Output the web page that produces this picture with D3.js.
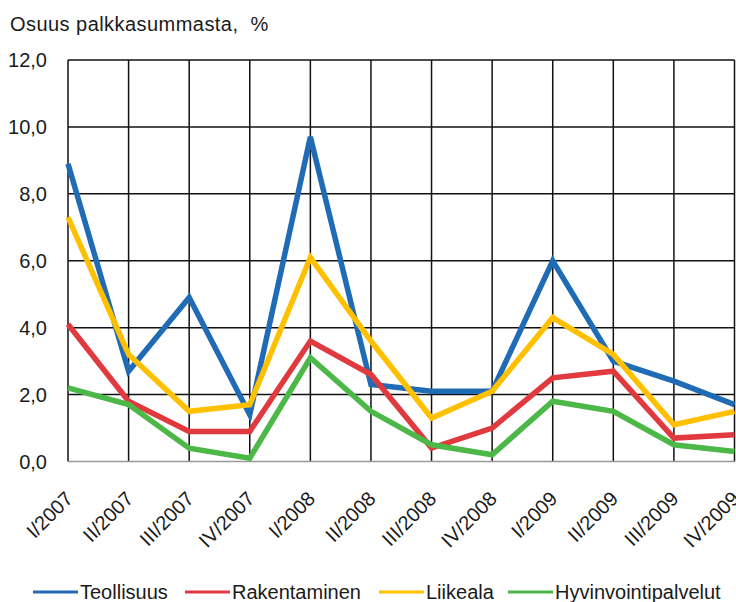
<!DOCTYPE html>
<html>
<head>
<meta charset="utf-8">
<script src="https://cdn.jsdelivr.net/npm/d3@7"></script>
<style>
  html, body { margin: 0; padding: 0; background: #fff; }
  svg { display: block; }
  text { font-family: Arial, "Liberation Sans", sans-serif; fill: #1a1a1a; }
</style>
</head>
<body>
<svg id="chart" width="736" height="602"></svg>
<script>
const categories = ["I/2007","II/2007","III/2007","IV/2007","I/2008","II/2008","III/2008","IV/2008","I/2009","II/2009","III/2009","IV/2009"];
const teollisuus = [8.9, 2.7, 4.9, 1.4, 9.7, 2.3, 2.1, 2.1, 6.0, 3.0, 2.4, 1.7];
const rakentaminen = [4.1, 1.8, 0.9, 0.9, 3.6, 2.6, 0.4, 1.0, 2.5, 2.7, 0.7, 0.8];
const liikeala = [7.3, 3.2, 1.5, 1.7, 6.1, 3.6, 1.3, 2.1, 4.3, 3.2, 1.1, 1.5];
const hyvinvointipalvelut = [2.2, 1.7, 0.4, 0.1, 3.1, 1.5, 0.5, 0.2, 1.8, 1.5, 0.5, 0.3];
const seriesNames = ["Teollisuus", "Rakentaminen", "Liikeala", "Hyvinvointipalvelut"];
const seriesColors = ["#1f6bb5", "#e0393e", "#ffc000", "#4cb848"];
const yTicks = [0, 2, 4, 6, 8, 10, 12];
const yTitle = "Osuus palkkasummasta,  %";

(function () {
const series = [teollisuus, rakentaminen, liikeala, hyvinvointipalvelut];
const svg = d3.select("#chart");
const pLeft = 68, pRight = 734.5, pTop = 60, pBottom = 461.5;

const x = d3.scalePoint().domain(categories).range([pLeft, pRight]);
const y = d3.scaleLinear().domain([0, 12]).range([pBottom, pTop]);

// title
svg.append("text").attr("x", 10).attr("y", 31).attr("font-size", 20)
  .attr("letter-spacing", 0.45).attr("xml:space", "preserve")
  .style("white-space", "pre").text(yTitle);

// horizontal grid
svg.append("g").selectAll("line").data(yTicks.filter(d => d > 0)).join("line")
  .attr("x1", pLeft).attr("x2", pRight)
  .attr("y1", d => y(d)).attr("y2", d => y(d))
  .attr("stroke", "#111").attr("stroke-width", 1.5);
// vertical grid
svg.append("g").selectAll("line").data(categories).join("line")
  .attr("x1", d => x(d)).attr("x2", d => x(d))
  .attr("y1", pTop).attr("y2", pBottom)
  .attr("stroke", "#111").attr("stroke-width", 1.5);
// baseline
svg.append("line").attr("x1", pLeft).attr("x2", pRight)
  .attr("y1", pBottom).attr("y2", pBottom)
  .attr("stroke", "#999").attr("stroke-width", 1.5);

// y tick labels
svg.append("g").selectAll("text").data(yTicks).join("text")
  .attr("x", 47).attr("y", d => y(d) + 7)
  .attr("text-anchor", "end").attr("font-size", 20)
  .text(d => d3.format(".1f")(d).replace(".", ","));

// x labels
svg.append("g").selectAll("text").data(categories).join("text")
  .attr("transform", d => `translate(${x(d) + 6},500) rotate(-45)`)
  .attr("text-anchor", "end").attr("font-size", 20)
  .text(d => d);

// lines
const line = d3.line().x((d, i) => x(categories[i])).y(d => y(d));
svg.append("g").selectAll("path").data(series).join("path")
  .attr("d", d => line(d))
  .attr("fill", "none")
  .attr("stroke", (d, i) => seriesColors[i])
  .attr("stroke-width", 5.5)
  .attr("stroke-linejoin", "miter");

// legend
const legendX = [33, 185, 379, 508];
const lg = svg.append("g").selectAll("g").data(seriesNames).join("g")
  .attr("transform", (d, i) => `translate(${legendX[i]},592)`);
lg.append("line").attr("x1", 0).attr("x2", 45).attr("y1", 0).attr("y2", 0)
  .attr("stroke", (d, i) => seriesColors[i]).attr("stroke-width", 3);
lg.append("text").attr("x", 47).attr("y", 7).attr("font-size", 20).text(d => d);
})();
</script>
</body>
</html>
